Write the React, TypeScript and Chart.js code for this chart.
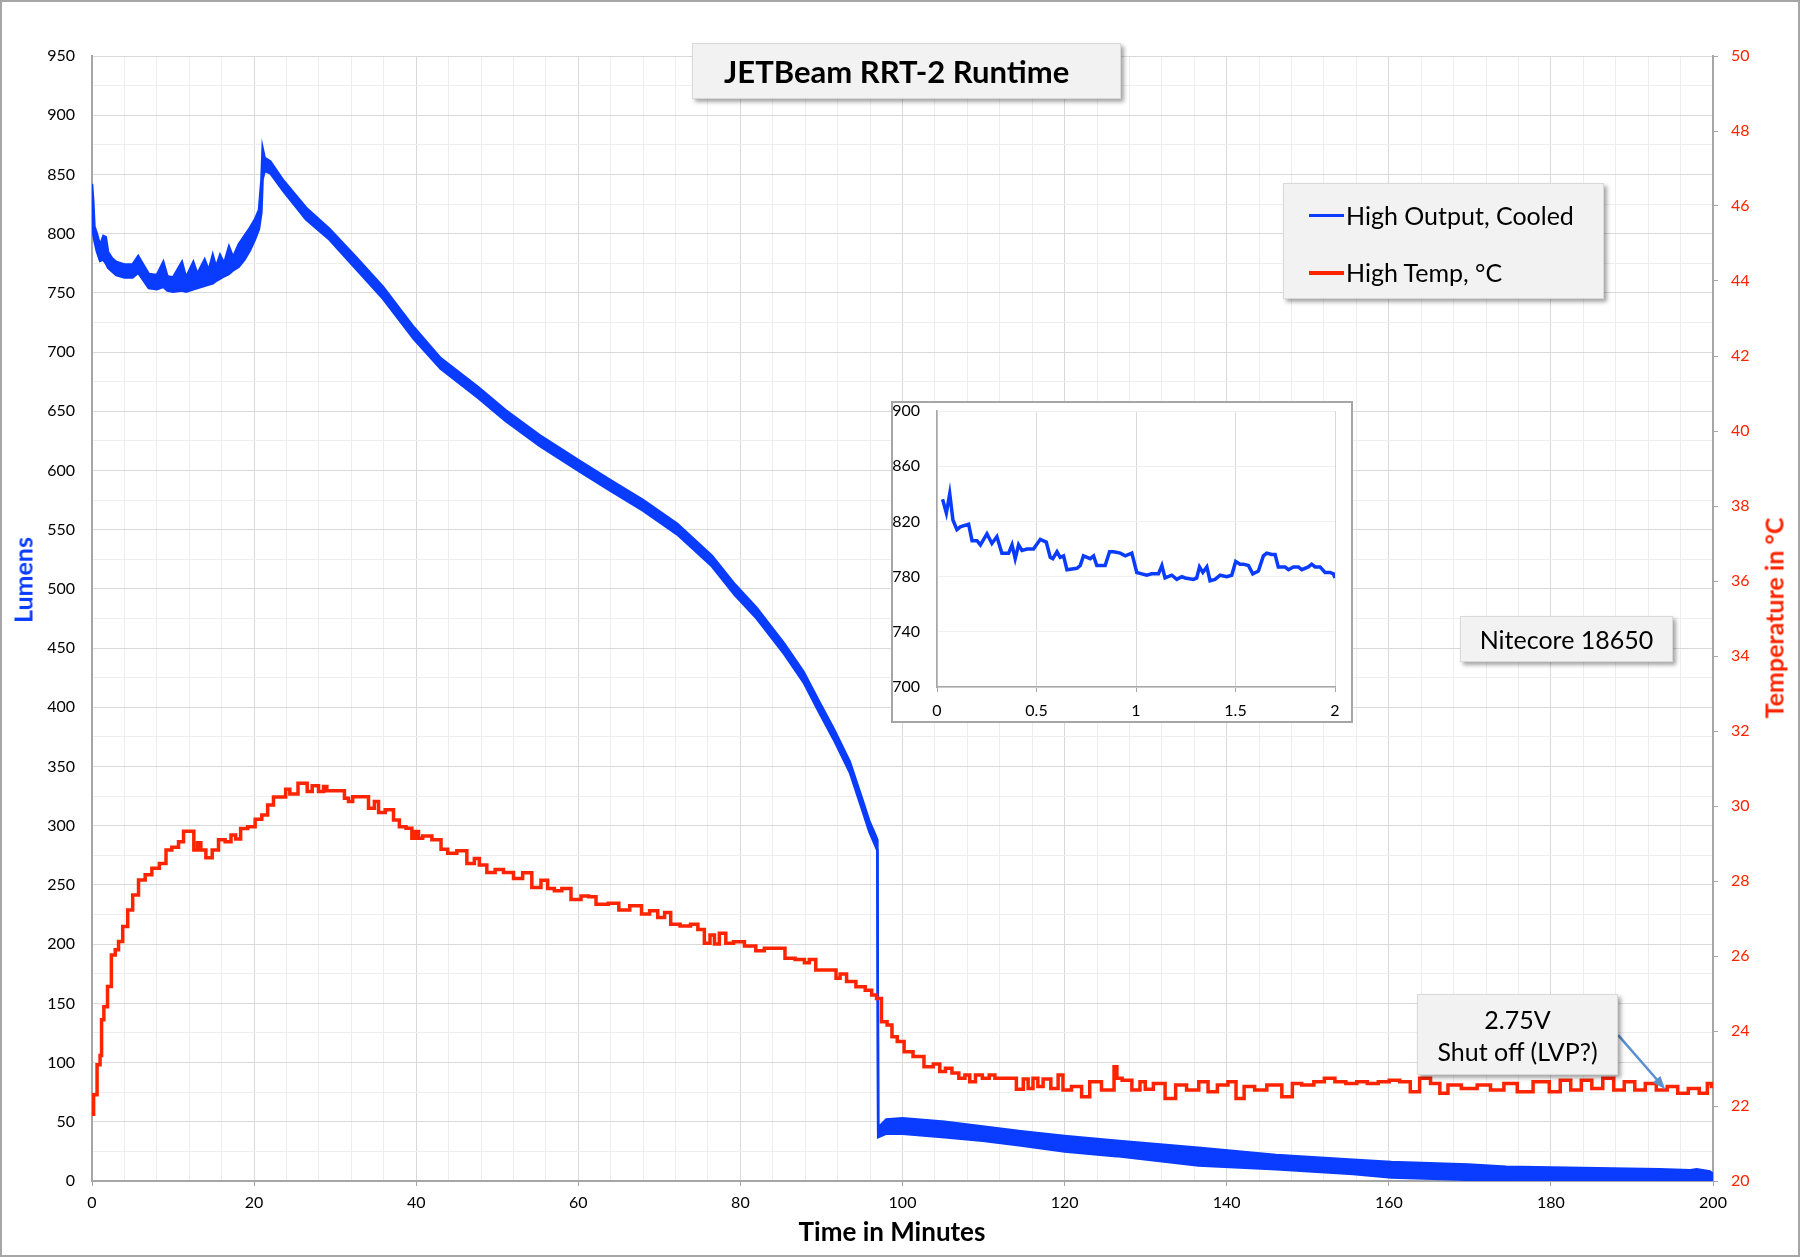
import React, { useEffect, useRef } from "react";
import { Chart, registerables } from "chart.js";

Chart.register(...registerables);

const FONT = "Lato, 'Open Sans', sans-serif";
const BLUE = "#0a3cff";
const RED = "#ff2400";
const AXIS_GRAY = "#a6a6a6";
const GRID_MAJOR = "#d9d9d9";
const GRID_MINOR = "#eeeeee";

// ---- axis ranges / ticks ----
const minutesRange = [0, 200];
const minutesMinorStep = 4;
const minutesMajorStep = 20;
const lumensRange = [0, 950];
const lumensMinorStep = 25;
const lumensMajorStep = 50;
const tempRange = [20, 50];
const tempStep = 2;
const insetMinutesRange = [0, 2];
const insetMinutesStep = 0.5;
const insetLumensRange = [700, 900];
const insetLumensStep = 40;

// ---- High Output, Cooled: [minutes, upper edge of trace, lower edge of trace] ----
const lumensBand: [number, number, number][] = [
  [0.0, 842, 805], [0.15, 828, 800], [0.3, 806, 794], [0.6, 800, 785], [1.0, 790, 777],
  [1.4, 798, 778], [1.7, 797, 775], [2.0, 784, 771], [2.5, 779, 768], [3.0, 776, 765],
  [4.0, 774, 763], [5.0, 774, 763], [5.7, 781, 767], [6.3, 774, 761], [7.0, 766, 754],
  [8.0, 765, 753], [8.8, 776, 755], [9.3, 764, 752], [10.0, 763, 751], [11.1, 776, 752],
  [11.6, 763, 751], [12.5, 776, 753], [13.0, 766, 754], [13.9, 778, 756], [14.4, 769, 757],
  [14.9, 782, 758], [15.3, 772, 760], [15.8, 782, 762], [16.3, 775, 764], [16.9, 789, 766],
  [17.4, 780, 769], [18.1, 791, 772], [18.8, 798, 778], [19.5, 805, 786], [20.1, 812, 795],
  [20.6, 820, 804], [20.9, 845, 818], [21.05, 872, 846], [21.3, 864, 853], [22.0, 861, 851],
  [23.6, 845, 836], [26.4, 822, 812], [29.3, 804, 795], [32.6, 780, 770], [35.9, 755, 745],
  [39.7, 721, 711], [43.0, 695, 686], [47.7, 670, 661], [51.0, 651, 642], [55.2, 630, 621],
  [60.2, 608, 599], [63.7, 593, 584], [68.0, 575, 566], [72.2, 555, 546], [76.5, 528, 519],
  [79.3, 504, 495], [82.0, 484, 475], [85.4, 454, 445], [87.8, 430, 421], [89.7, 405, 396],
  [91.5, 382, 373], [93.5, 354, 345], [95.0, 323, 314], [95.9, 304, 295], [96.6, 293, 284],
  [96.9, 288, 279], [97.0, 45, 37], [98.0, 52, 40], [100.0, 53, 40], [105.2, 50, 37],
  [109.9, 46, 34], [114.6, 42, 30], [120.0, 38, 25], [126.4, 34, 21], [136.5, 28, 13],
  [146.1, 22, 10], [155.6, 18, 6], [160.3, 16, 3], [169.8, 14, 1], [174.5, 12, 0],
  [183.9, 11, 0], [193.4, 10, 0], [197.2, 9, 1], [198.0, 10, 1], [199.6, 8, 0], [200.0, 6, 0],
];

// ---- High Temp, °C: [minutes, °C] ----
const tempSeries: [number, number][] = [
  [0, 21.78], [0.4, 22.3], [0.85, 23.1], [1.14, 23.35], [1.22, 24.3], [1.71, 24.65], [2.12, 25.19],
  [2.66, 26.03], [3.07, 26.17], [3.48, 26.39], [4.1, 26.79], [4.71, 27.23], [5.33, 27.63], [6.15, 28.03],
  [6.97, 28.17], [7.8, 28.34], [8.82, 28.47], [9.44, 28.83], [10.26, 28.9], [11.09, 29.05], [11.5, 29.33],
  [12.32, 29.33], [12.81, 28.83], [13.22, 29.02], [13.64, 28.83], [14.46, 28.62], [15.2, 28.83],
  [16.02, 29.1], [16.84, 29.05], [17.46, 29.23], [17.99, 29.12], [18.69, 29.4], [19.72, 29.45],
  [20.54, 29.65], [21.36, 29.76], [21.98, 30.03], [22.8, 30.24], [23.63, 30.24], [24.16, 30.45],
  [24.66, 30.32], [25.27, 30.32], [25.56, 30.61], [26.3, 30.61], [26.8, 30.39], [27.54, 30.54],
  [28.36, 30.39], [28.77, 30.52], [29.18, 30.41], [30.85, 30.41], [31.44, 30.21], [31.85, 30.12],
  [32.47, 30.25], [33.7, 30.25], [34.53, 29.94], [35.15, 30.12], [35.56, 29.83], [36.79, 29.9],
  [37.61, 29.63], [38.23, 29.45], [39.26, 29.41], [39.67, 29.14], [40.08, 29.32], [40.49, 29.14],
  [41.11, 29.2], [42.76, 29.1], [43.37, 28.85], [44.4, 28.74], [45.63, 28.81], [46.87, 28.47],
  [47.48, 28.6], [48.1, 28.43], [49.33, 28.23], [50.15, 28.31], [51.39, 28.23], [52.62, 28.07],
  [53.65, 28.22], [54.88, 27.83], [55.91, 28.02], [56.53, 27.8], [57.56, 27.74], [58.38, 27.8],
  [59.82, 27.51], [60.85, 27.6], [61.67, 27.58], [62.7, 27.38], [64.7, 27.41], [65.3, 27.23],
  [67.4, 27.34], [68.2, 27.12], [69.4, 27.21], [70.2, 27.03], [71.1, 27.16], [71.7, 26.85],
  [73.4, 26.8], [74.3, 26.85], [75.2, 26.71], [75.9, 26.34], [76.6, 26.56], [77.0, 26.32],
  [77.8, 26.61], [78.6, 26.34], [79.7, 26.38], [81.3, 26.27], [82.5, 26.14], [83.4, 26.21],
  [85.2, 26.21], [85.8, 25.94], [87.7, 25.91], [88.1, 25.82], [88.9, 25.91], [89.7, 25.63],
  [91.6, 25.63], [92.0, 25.41], [92.6, 25.52], [93.6, 25.32], [94.9, 25.18], [95.9, 25.09],
  [96.5, 24.96], [97.1, 24.87], [97.7, 24.25], [98.5, 24.16], [98.9, 23.85], [99.8, 23.72],
  [100.6, 23.45], [102.0, 23.32], [103.3, 23.05], [104.3, 23.12], [104.9, 22.92], [105.7, 23.01],
  [106.5, 22.88], [107.4, 22.74], [108.0, 22.83], [108.6, 22.65], [109.4, 22.83], [110.3, 22.74],
  [111.1, 22.83], [111.7, 22.74], [113.5, 22.74], [114.6, 22.45], [115.2, 22.72], [115.8, 22.47],
  [116.4, 22.74], [117.0, 22.52], [117.7, 22.72], [118.9, 22.47], [119.5, 22.83], [120.1, 22.43],
  [121.6, 22.52], [122.6, 22.25], [123.6, 22.65], [124.2, 22.65], [124.9, 22.43], [125.9, 22.43],
  [126.3, 23.05], [126.6, 22.74], [127.6, 22.69], [129.0, 22.43], [129.6, 22.65], [130.3, 22.45],
  [131.6, 22.6], [133.2, 22.2], [134.2, 22.56], [135.9, 22.43], [137.2, 22.65], [138.2, 22.38],
  [139.5, 22.56], [140.8, 22.65], [141.5, 22.2], [142.8, 22.52], [144.1, 22.43], [145.8, 22.56],
  [147.8, 22.25], [148.4, 22.6], [150.1, 22.56], [151.4, 22.65], [152.7, 22.74], [154.0, 22.65],
  [155.4, 22.6], [156.7, 22.65], [158.0, 22.6], [159.4, 22.65], [160.7, 22.69], [162.0, 22.65],
  [163.3, 22.38], [164.3, 22.74], [166.0, 22.6], [166.6, 22.34], [168.0, 22.56], [169.9, 22.47],
  [171.9, 22.56], [173.2, 22.43], [175.2, 22.6], [176.5, 22.38], [179.1, 22.65], [180.5, 22.38],
  [181.8, 22.69], [183.1, 22.43], [184.4, 22.69], [185.7, 22.47], [187.1, 22.74], [188.4, 22.43],
  [189.7, 22.65], [191.0, 22.43], [192.3, 22.6], [193.7, 22.43], [195.0, 22.52], [196.3, 22.34],
  [197.6, 22.47], [199.0, 22.34], [199.6, 22.6], [200.0, 22.52],
];

// ---- Inset: first two minutes, [minutes, lumens] ----
const insetSeries: [number, number][] = [
  [0.028, 836], [0.047, 826], [0.064, 840], [0.08, 821], [0.1, 814], [0.117, 816], [0.159, 818],
  [0.176, 806], [0.201, 806], [0.218, 803], [0.251, 811], [0.276, 804], [0.301, 809], [0.326, 797],
  [0.36, 797], [0.377, 803], [0.393, 793], [0.41, 803], [0.427, 799], [0.452, 800], [0.485, 800],
  [0.519, 807], [0.549, 805], [0.569, 794], [0.582, 793], [0.603, 798], [0.619, 794], [0.636, 795],
  [0.653, 785], [0.703, 786], [0.72, 788], [0.736, 795], [0.77, 793], [0.787, 795], [0.803, 788],
  [0.845, 788], [0.867, 798], [0.887, 798], [0.921, 797], [0.946, 795], [0.979, 797], [1.004, 783],
  [1.029, 782], [1.054, 781], [1.079, 782], [1.113, 782], [1.13, 788], [1.146, 779], [1.18, 781],
  [1.205, 778], [1.23, 780], [1.247, 779], [1.289, 778], [1.305, 779], [1.319, 787], [1.336, 783],
  [1.356, 787], [1.372, 777], [1.397, 778], [1.423, 781], [1.456, 780], [1.481, 781], [1.501, 791],
  [1.523, 789], [1.54, 789], [1.565, 788], [1.587, 782], [1.615, 784], [1.64, 795], [1.657, 797],
  [1.682, 796], [1.699, 796], [1.715, 787], [1.749, 787], [1.766, 785], [1.791, 787], [1.816, 787],
  [1.833, 785], [1.866, 787], [1.883, 789], [1.9, 787], [1.925, 787], [1.95, 783], [1.975, 783],
  [1.992, 782], [2.0, 779],
];

// ---- arrow of the "2.75V Shut off" note: [minutes, °C] ----
const arrowTail: [number, number] = [188.3, 23.89];
const arrowTip: [number, number] = [194.1, 22.45];

const arrowPlugin = {
  id: "lvpArrow",
  afterDatasetsDraw(chart: any) {
    const xs = chart.scales.x;
    const ys = chart.scales.y2;
    const x0 = xs.getPixelForValue(arrowTail[0]);
    const y0 = ys.getPixelForValue(arrowTail[1]);
    const x1 = xs.getPixelForValue(arrowTip[0]);
    const y1 = ys.getPixelForValue(arrowTip[1]);
    const ctx = chart.ctx;
    const ang = Math.atan2(y1 - y0, x1 - x0);
    const head = 13;
    const hw = 5;
    ctx.save();
    ctx.strokeStyle = "#5b8fd0";
    ctx.fillStyle = "#5b8fd0";
    ctx.lineWidth = 2.5;
    ctx.beginPath();
    ctx.moveTo(x0, y0);
    ctx.lineTo(x1 - Math.cos(ang) * head * 0.8, y1 - Math.sin(ang) * head * 0.8);
    ctx.stroke();
    ctx.beginPath();
    ctx.moveTo(x1, y1);
    ctx.lineTo(
      x1 - Math.cos(ang) * head - Math.sin(ang) * hw,
      y1 - Math.sin(ang) * head + Math.cos(ang) * hw
    );
    ctx.lineTo(
      x1 - Math.cos(ang) * head + Math.sin(ang) * hw,
      y1 - Math.sin(ang) * head - Math.cos(ang) * hw
    );
    ctx.closePath();
    ctx.fill();
    ctx.restore();
  },
};

const boxStyle: React.CSSProperties = {
  position: "absolute",
  background: "#f2f2f2",
  border: "1px solid #d9d9d9",
  boxShadow: "3px 3px 4px rgba(0,0,0,0.35)",
  boxSizing: "border-box",
  fontFamily: FONT,
  color: "#000",
};

export default function App() {
  const mainRef = useRef<HTMLCanvasElement>(null);
  const insetRef = useRef<HTMLCanvasElement>(null);

  useEffect(() => {
    Chart.defaults.font.family = FONT;
    const isMajor = (v: number, step: number) => Math.abs(v / step - Math.round(v / step)) < 1e-6;

    const main = new Chart(mainRef.current as HTMLCanvasElement, {
      type: "line",
      data: {
        datasets: [
          {
            label: "High Temp, °C",
            data: tempSeries.map(([t, c]) => ({ x: t, y: c })),
            yAxisID: "y2",
            borderColor: RED,
            borderWidth: 3.5,
            pointRadius: 0,
            fill: false,
            stepped: "middle",
            order: 0,
          },
          {
            label: "High Output, Cooled",
            data: lumensBand.map(([t, hi]) => ({ x: t, y: hi })),
            yAxisID: "y",
            borderColor: BLUE,
            backgroundColor: BLUE,
            borderWidth: 2.5,
            pointRadius: 0,
            fill: "+1",
            tension: 0,
            order: 1,
          },
          {
            label: "High Output, Cooled (lower edge)",
            data: lumensBand.map(([t, , lo]) => ({ x: t, y: lo })),
            yAxisID: "y",
            borderColor: BLUE,
            borderWidth: 2.5,
            pointRadius: 0,
            fill: false,
            tension: 0,
            order: 2,
          },
        ],
      },
      options: {
        animation: false,
        responsive: false,
        devicePixelRatio: 1,
        layout: { padding: { top: 56, right: 0, bottom: 0, left: 0 } },
        plugins: { legend: { display: false }, tooltip: { enabled: false }, title: { display: false } },
        scales: {
          x: {
            type: "linear",
            min: minutesRange[0],
            max: minutesRange[1],
            afterFit: (s: any) => { s.height = 76; },
            ticks: {
              stepSize: minutesMinorStep,
              autoSkip: false,
              maxRotation: 0,
              padding: 7,
              color: "#000",
              font: { size: 16 },
              callback: (v: any) => (isMajor(Number(v), minutesMajorStep) ? String(v) : ""),
            },
            grid: {
              color: (c: any) => (c.tick && isMajor(c.tick.value, minutesMajorStep) ? GRID_MAJOR : GRID_MINOR),
              tickColor: (c: any) => (c.tick && isMajor(c.tick.value, minutesMajorStep) ? AXIS_GRAY : "rgba(0,0,0,0)"),
              tickLength: 5,
            },
            border: { color: AXIS_GRAY, width: 2 },
          },
          y: {
            type: "linear",
            position: "left",
            min: lumensRange[0],
            max: lumensRange[1],
            afterFit: (s: any) => { s.width = 92; },
            ticks: {
              stepSize: lumensMinorStep,
              autoSkip: false,
              padding: 17,
              color: "#000",
              font: { size: 16 },
              callback: (v: any) => (isMajor(Number(v), lumensMajorStep) ? String(v) : ""),
            },
            grid: {
              color: (c: any) => (c.tick && isMajor(c.tick.value, lumensMajorStep) ? GRID_MAJOR : GRID_MINOR),
              drawTicks: false,
            },
            border: { color: AXIS_GRAY, width: 2 },
          },
          y2: {
            type: "linear",
            position: "right",
            min: tempRange[0],
            max: tempRange[1],
            afterFit: (s: any) => { s.width = 87; },
            ticks: {
              stepSize: tempStep,
              autoSkip: false,
              padding: 13,
              color: RED,
              font: { size: 16 },
            },
            grid: { drawOnChartArea: false, tickLength: 5, tickColor: AXIS_GRAY },
            border: { color: AXIS_GRAY, width: 2 },
          },
        },
      },
      plugins: [arrowPlugin],
    } as any);

    const inset = new Chart(insetRef.current as HTMLCanvasElement, {
      type: "line",
      data: {
        datasets: [
          {
            label: "First 2 minutes",
            data: insetSeries.map(([t, l]) => ({ x: t, y: l })),
            borderColor: BLUE,
            borderWidth: 3.5,
            pointRadius: 0,
            fill: false,
            tension: 0,
          },
        ],
      },
      options: {
        animation: false,
        responsive: false,
        devicePixelRatio: 1,
        layout: { padding: { top: 8, right: 16, bottom: 0, left: 0 } },
        plugins: { legend: { display: false }, tooltip: { enabled: false } },
        scales: {
          x: {
            type: "linear",
            min: insetMinutesRange[0],
            max: insetMinutesRange[1],
            afterFit: (s: any) => {
              s.height = 34;
              s.paddingLeft = 0;
              s.paddingRight = 0;
            },
            ticks: {
              stepSize: insetMinutesStep,
              padding: 9,
              color: "#000",
              font: { size: 16 },
              maxRotation: 0,
              callback: (v: any) => String(Number(v)),
            },
            grid: { color: GRID_MAJOR, tickLength: 5, tickColor: AXIS_GRAY },
            border: { color: AXIS_GRAY, width: 1.5 },
          },
          y: {
            type: "linear",
            min: insetLumensRange[0],
            max: insetLumensRange[1],
            afterFit: (s: any) => {
              s.width = 44;
              s.paddingTop = 0;
              s.paddingBottom = 0;
            },
            ticks: { stepSize: insetLumensStep, padding: 17, color: "#000", font: { size: 16 } },
            grid: { color: "#f0f0f0", drawTicks: false },
            border: { color: AXIS_GRAY, width: 1.5 },
          },
        },
      },
    } as any);

    return () => {
      main.destroy();
      inset.destroy();
    };
  }, []);

  return (
    <div
      style={{
        position: "absolute",
        left: 0,
        top: 0,
        width: 1800,
        height: 1257,
        background: "#fff",
        overflow: "hidden",
        fontFamily: FONT,
      }}
    >
      <canvas
        ref={mainRef}
        width={1800}
        height={1257}
        style={{ position: "absolute", left: 0, top: 0, width: 1800, height: 1257 }}
      />

      {/* axis titles */}
      <div
        style={{
          position: "absolute", left: 23, top: 580, transform: "translate(-50%,-50%) rotate(-90deg)",
          whiteSpace: "nowrap", fontWeight: 700, fontSize: 25, color: BLUE, lineHeight: 1,
        }}
      >
        Lumens
      </div>
      <div
        style={{
          position: "absolute", left: 1774, top: 618, transform: "translate(-50%,-50%) rotate(-90deg)",
          whiteSpace: "nowrap", fontWeight: 700, fontSize: 25, color: RED, lineHeight: 1,
        }}
      >
        Temperature in °C
      </div>
      <div
        style={{
          position: "absolute", left: 892, top: 1231, transform: "translate(-50%,-50%)",
          whiteSpace: "nowrap", fontWeight: 700, fontSize: 26, color: "#000", lineHeight: 1,
        }}
      >
        Time in Minutes
      </div>

      {/* title box */}
      <div style={{ ...boxStyle, left: 692, top: 43, width: 429, height: 56 }}>
        <div
          style={{
            position: "absolute", left: 31, top: 0, bottom: 0, display: "flex",
            alignItems: "center", fontWeight: 700, fontSize: 31, whiteSpace: "nowrap",
          }}
        >
          JETBeam RRT-2 Runtime
        </div>
      </div>

      {/* legend */}
      <div style={{ ...boxStyle, left: 1283, top: 183, width: 321, height: 116 }}>
        <div style={{ position: "absolute", left: 25, top: 30, width: 35, height: 3, background: BLUE }} />
        <div style={{ position: "absolute", left: 62, top: 31, transform: "translateY(-50%)", fontSize: 25, whiteSpace: "nowrap", lineHeight: 1.2 }}>
          High Output, Cooled
        </div>
        <div style={{ position: "absolute", left: 25, top: 87, width: 35, height: 3.5, background: RED }} />
        <div style={{ position: "absolute", left: 62, top: 88, transform: "translateY(-50%)", fontSize: 25, whiteSpace: "nowrap", lineHeight: 1.2 }}>
          High Temp, °C
        </div>
      </div>

      {/* battery note */}
      <div style={{ ...boxStyle, left: 1460, top: 616, width: 213, height: 46 }}>
        <div style={{ position: "absolute", inset: 0, display: "flex", alignItems: "center", justifyContent: "center", fontSize: 25, whiteSpace: "nowrap" }}>
          Nitecore 18650
        </div>
      </div>

      {/* shut-off note */}
      <div style={{ ...boxStyle, left: 1417, top: 994, width: 201, height: 81 }}>
        <div
          style={{
            position: "absolute", inset: 0, display: "flex", flexDirection: "column", alignItems: "center",
            justifyContent: "center", fontSize: 25, lineHeight: "32px", whiteSpace: "nowrap",
          }}
        >
          <div>2.75V</div>
          <div>Shut off (LVP?)</div>
        </div>
      </div>

      {/* inset chart */}
      <div
        style={{
          position: "absolute", left: 891, top: 401, width: 462, height: 322, background: "#fff",
          border: "2px solid #a6a6a6", boxSizing: "border-box",
        }}
      >
        <canvas ref={insetRef} width={458} height={318} style={{ position: "absolute", left: 0, top: 0, width: 458, height: 318 }} />
      </div>

      {/* outer frame */}
      <div
        style={{
          position: "absolute", left: 0, top: 0, width: 1800, height: 1257, border: "2px solid #a6a6a6",
          boxSizing: "border-box", pointerEvents: "none",
        }}
      />
    </div>
  );
}
